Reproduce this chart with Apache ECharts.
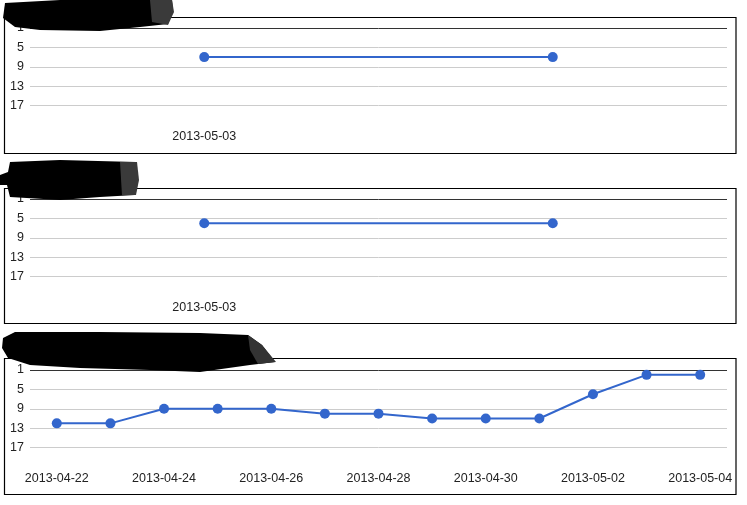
<!DOCTYPE html>
<html>
<head>
<meta charset="utf-8">
<script src="https://cdn.jsdelivr.net/npm/echarts@6/dist/echarts.min.js"></script>
<style>
html,body{margin:0;padding:0;background:#fff;}
#chart{width:747px;height:505px;}
</style>
</head>
<body>
<div id="chart"></div>
<script>
// Data
const datesA = ['2013-05-03', '2013-05-04'];
const valuesA = [7, 7];
const datesB = ['2013-05-03', '2013-05-04'];
const valuesB = [6, 6];
const datesC = ['2013-04-22','2013-04-23','2013-04-24','2013-04-25','2013-04-26','2013-04-27','2013-04-28','2013-04-29','2013-04-30','2013-05-01','2013-05-02','2013-05-03','2013-05-04'];
const valuesC = [12, 12, 9, 9, 9, 10, 10, 11, 11, 11, 6, 2, 2];
const rankTicks = [1, 5, 9, 13, 17];

const chart = echarts.init(document.getElementById('chart'), null, {renderer: 'canvas'});
const FONT = 'Liberation Sans, Arial, sans-serif';
const tops = [28, 199, 370];
const H = 97;

function yAxis(i) {
  return {
    type: 'value', gridIndex: i, inverse: true, min: 1, max: 21, interval: 4,
    axisLine: {show: false}, axisTick: {show: false},
    axisLabel: {
      color: '#222', fontSize: 12.5, fontFamily: FONT, margin: 6, showMaxLabel: false,
      formatter: v => rankTicks.includes(v) ? String(v) : ''
    },
    splitLine: {
      show: true, showMaxLine: false,
      lineStyle: {color: ['#333', '#ccc', '#ccc', '#ccc', '#ccc', 'rgba(0,0,0,0)'], width: 1}
    }
  };
}
function xAxis(i, data, interval) {
  return {
    type: 'category', gridIndex: i, data: data, boundaryGap: true,
    axisLine: {show: false}, axisTick: {show: false},
    axisLabel: {color: '#222', fontSize: 12.5, fontFamily: FONT, margin: 5, interval: interval}
  };
}
function series(i, data) {
  return {
    type: 'line', xAxisIndex: i, yAxisIndex: i, data: data,
    symbol: 'circle', symbolSize: 10, showSymbol: true,
    lineStyle: {color: '#3366cc', width: 2},
    itemStyle: {color: '#3366cc'},
    animation: false
  };
}

const panelTops = [17, 188, 358];
const panelBottoms = [153, 323, 494];
const graphics = panelTops.map((t, k) => ({
  type: 'rect', shape: {x: 4.5, y: t + 0.5, width: 731.5, height: panelBottoms[k] - t},
  style: {fill: 'none', stroke: '#000', lineWidth: 1.2}, z: 10
}));
// redaction marks over the titles
const blobs = [
  {pts: [[5,3],[60,0],[172,0],[173,10],[168,24],[140,27],[100,31],[40,30],[15,27],[3,18]], c: '#000'},
  {pts: [[150,0],[172,0],[174,12],[168,25],[152,22]], c: '#3a3a3a'},
  {pts: [[10,162],[60,160],[136,162],[138,180],[135,195],[100,197],[60,200],[10,197],[7,185],[0,185],[0,175],[8,172]], c: '#000'},
  {pts: [[120,162],[137,162],[139,180],[136,195],[122,195]], c: '#3a3a3a'},
  {pts: [[3,338],[15,332],[100,332],[200,333],[248,335],[262,345],[275,362],[250,365],[200,372],[150,370],[80,368],[30,365],[8,358],[2,348]], c: '#000'},
  {pts: [[248,335],[262,345],[276,362],[258,364],[250,350]], c: '#333'}
];
blobs.forEach(b => graphics.push({
  type: 'polygon', shape: {points: b.pts}, style: {fill: b.c}, z: 20
}));

chart.setOption({
  animation: false,
  backgroundColor: '#fff',
  grid: tops.map(t => ({left: 30, right: 20, top: t, height: H, containLabel: false})),
  xAxis: [xAxis(0, datesA, (idx) => idx === 0), xAxis(1, datesB, (idx) => idx === 0), xAxis(2, datesC, 1)],
  yAxis: [yAxis(0), yAxis(1), yAxis(2)],
  series: [series(0, valuesA), series(1, valuesB), series(2, valuesC)],
  graphic: graphics
});
</script>
</body>
</html>
